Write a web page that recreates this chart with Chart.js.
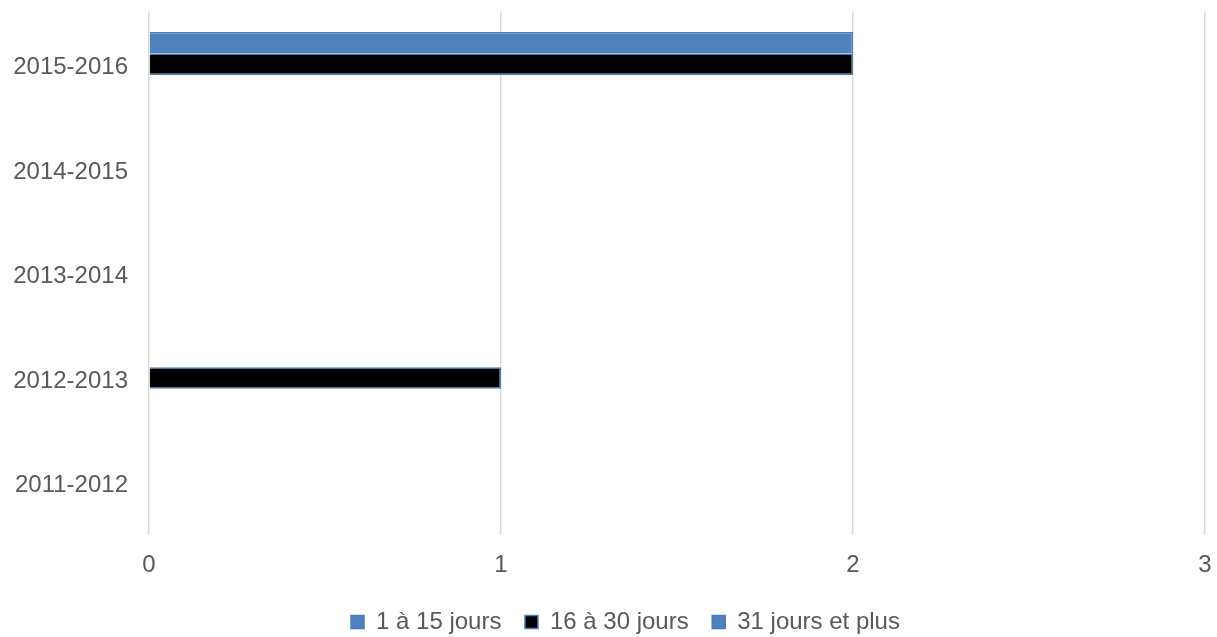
<!DOCTYPE html>
<html lang="fr">
<head>
<meta charset="utf-8">
<title>Absences par durée</title>
<script src="https://cdn.jsdelivr.net/npm/chart.js@4"></script>
<style>
  html, body { margin: 0; padding: 0; background: #fff; overflow: hidden; }
  /* un peu plus haut que la fenêtre : la marge basse de la légende déborde */
  #zone { position: relative; width: 1217px; height: 644px; }
</style>
</head>
<body>
<div id="zone"><canvas id="graphique"></canvas></div>
<script>
// Années scolaires, de la plus récente (en haut) à la plus ancienne.
const annees = ["2015-2016", "2014-2015", "2013-2014", "2012-2013", "2011-2012"];

// Nombre de cas par tranche de durée.
const jours1a15 = [0, 0, 0, 0, 0];
const jours16a30 = [2, 0, 0, 1, 0];
const jours31plus = [2, 0, 0, 0, 0];

const graduationsX = [0, 1, 2, 3];

const GRIS_TEXTE = "#595959";
const BLEU = "#4f81bd";
const BORDURE = "#4a7ebb";
const POLICE = "'Liberation Sans', Helvetica, Arial, sans-serif";

// Les étiquettes des axes ne doivent pas réserver de marge autour de la zone de tracé.
function sansMarges(axe) {
  axe.paddingTop = 0;
  axe.paddingBottom = 0;
  axe.paddingLeft = 0;
  axe.paddingRight = 0;
}

// La légende est centrée entre x = 46 et le bord droit du tracé.
const legendeDecalee = {
  id: "legendeDecalee",
  afterLayout(chart) {
    if (chart.legend) chart.legend.left = 46;
  },
};

// Chart.js empile les barres d'un groupe de haut en bas dans l'ordre des
// datasets : on met donc « 31 jours et plus » en premier et on inverse la légende.
const ctx = document.getElementById("graphique").getContext("2d");
new Chart(ctx, {
  type: "bar",
  data: {
    labels: annees,
    datasets: [
      { label: "31 jours et plus", data: jours31plus, backgroundColor: BLEU, borderColor: BORDURE, borderWidth: 1.5 },
      { label: "16 à 30 jours", data: jours16a30, backgroundColor: "#000000", borderColor: BORDURE, borderWidth: 1.5 },
      { label: "1 à 15 jours", data: jours1a15, backgroundColor: BLEU, borderColor: BORDURE, borderWidth: 1.5 },
    ],
  },
  plugins: [legendeDecalee],
  options: {
    indexAxis: "y",
    responsive: true,
    maintainAspectRatio: false,
    animation: false,
    categoryPercentage: 0.617,
    barPercentage: 1,
    layout: { padding: { top: 12, right: 12, left: 0, bottom: 0 } },
    plugins: {
      tooltip: { enabled: false },
      legend: {
        position: "bottom",
        reverse: true,
        labels: {
          color: GRIS_TEXTE,
          font: { family: POLICE, size: 24 },
          boxWidth: 13,
          boxHeight: 13,
          padding: 23.5,
        },
      },
    },
    scales: {
      x: {
        min: 0,
        max: 3,
        afterBuildTicks: (axe) => { axe.ticks = graduationsX.map((v) => ({ value: v })); },
        afterFit: (axe) => { axe.height = 51.5; sansMarges(axe); },
        ticks: {
          color: GRIS_TEXTE,
          font: { family: POLICE, size: 24 },
          padding: 16,
        },
        grid: { color: "#d9d9d9", lineWidth: 1.5, drawTicks: false },
        border: { display: false },
      },
      y: {
        afterFit: (axe) => { axe.width = 149; sansMarges(axe); },
        ticks: {
          color: GRIS_TEXTE,
          font: { family: POLICE, size: 24 },
          padding: 21,
          labelOffset: 3,
        },
        grid: { display: false, drawTicks: false },
        border: { display: false },
      },
    },
  },
});
</script>
</body>
</html>
